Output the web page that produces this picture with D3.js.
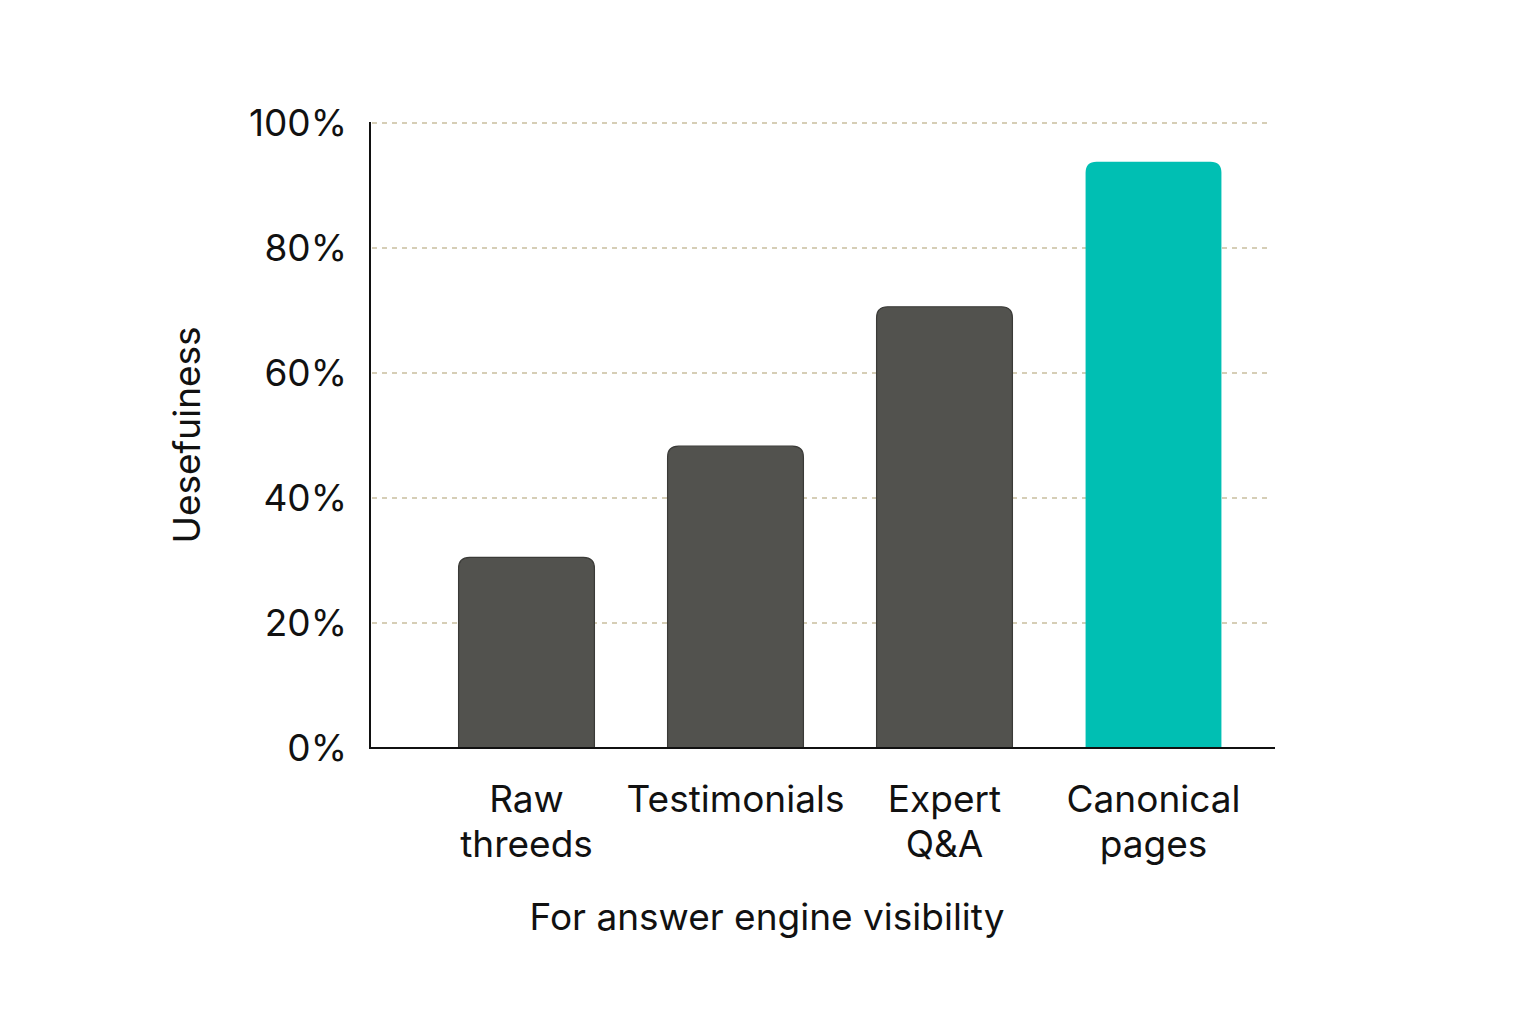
<!DOCTYPE html>
<html><head><meta charset="utf-8">
<script src="https://cdn.jsdelivr.net/npm/d3@7"></script>
<style>body{margin:0;background:#fff}text{font-family:Inter,"Noto Sans",sans-serif;fill:#111}</style>
</head><body>
<script>
var categories = [["Raw", "threeds"], ["Testimonials"], ["Expert", "Q&A"], ["Canonical", "pages"]];
var values = [30.5, 48.3, 70.6, 93.8];
var colors = ["#52524e", "#52524e", "#52524e", "#00bfb3"];
var yTicks = [0, 20, 40, 60, 80, 100];

var svg = d3.select("body").append("svg").attr("width", 1536).attr("height", 1024);

var x = d3.scaleBand().domain(d3.range(categories.length)).range([422, 1258])
    .paddingInner(0.35).paddingOuter(0.175);
var y = d3.scaleLinear().domain([0, 100]).range([748, 123]);

// Grid lines
svg.selectAll(".grid").data(yTicks.slice(1)).enter().append("line")
    .attr("x1", 372).attr("x2", 1272)
    .attr("y1", function (d) { return y(d); }).attr("y2", function (d) { return y(d); })
    .attr("stroke", "#c9bf9f").attr("stroke-width", 1.3).attr("stroke-dasharray", "5,5");

// Bars with rounded tops
function barPath(x0, w, top, bottom, r) {
    return "M" + x0 + "," + bottom + "V" + (top + r) + "Q" + x0 + "," + top + " " + (x0 + r) + "," + top +
        "H" + (x0 + w - r) + "Q" + (x0 + w) + "," + top + " " + (x0 + w) + "," + (top + r) + "V" + bottom + "Z";
}
svg.selectAll(".bar").data(values).enter().append("path")
    .attr("d", function (d, i) { return barPath(x(i), x.bandwidth(), y(d), y(0), 11); })
    .attr("fill", function (d, i) { return colors[i]; })
    .attr("stroke", function (d, i) { return i == 3 ? "none" : "#3a3a37"; })
    .attr("stroke-width", 1.2);

// Axes
svg.append("line").attr("x1", 370).attr("x2", 370).attr("y1", 122).attr("y2", 749)
    .attr("stroke", "#111").attr("stroke-width", 2);
svg.append("line").attr("x1", 369).attr("x2", 1275).attr("y1", 748).attr("y2", 748)
    .attr("stroke", "#111").attr("stroke-width", 2);

svg.selectAll(".ytick").data(yTicks).enter().append("text")
    .attr("x", 347).attr("y", function (d) { return y(d); }).attr("dy", "0.36em")
    .attr("text-anchor", "end").attr("font-size", 37)
    .text(function (d) { return d + "%"; });

// Category labels
var lab = svg.selectAll(".xlab").data(categories).enter().append("text")
    .attr("text-anchor", "middle").attr("font-size", 37)
    .attr("transform", function (d, i) { return "translate(" + (x(i) + x.bandwidth() / 2) + ",812)"; });
lab.selectAll("tspan").data(function (d) { return d; }).enter().append("tspan")
    .attr("x", 0).attr("y", function (d, j) { return j * 45; }).text(function (d) { return d; });

svg.append("text").attr("x", 767).attr("y", 930).attr("text-anchor", "middle")
    .attr("font-size", 37).text("For answer engine visibility");
svg.append("text").attr("transform", "translate(200,435) rotate(-90)").attr("text-anchor", "middle")
    .attr("font-size", 37).text("Uesefuiness");
</script>
</body></html>
